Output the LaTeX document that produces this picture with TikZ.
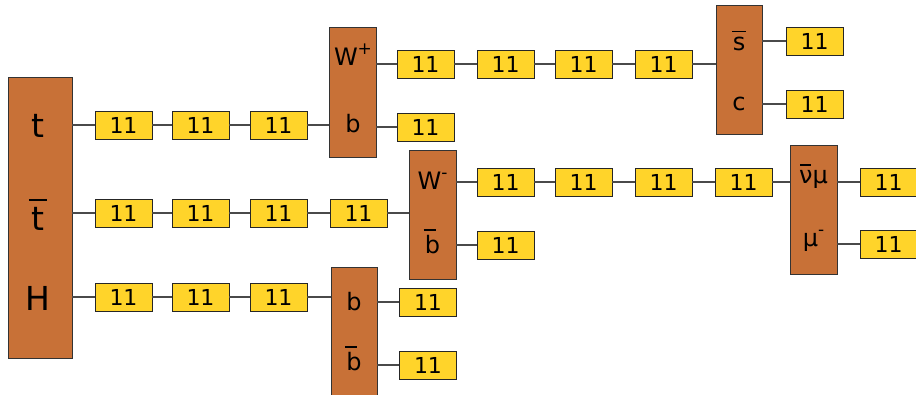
\documentclass[tikz,border=0pt]{standalone}
\usepackage{fontspec}
\setmainfont{DejaVu Sans}
\definecolor{brownbox}{HTML}{C87137}
\definecolor{yellowbox}{HTML}{FFD42A}
\definecolor{linegrey}{HTML}{4A4A4A}
% overbar: [shift]{width}{text}
\newcommand{\ovb}[3][0pt]{\leavevmode\setbox0\hbox{#3}\rlap{\kern#1\hbox to\wd0{\hss\rule[\dimexpr\ht0+0.17em\relax]{#2}{0.07em}\hss}}\box0}
\newcommand{\supmark}[1]{\raisebox{0.42em}{\fontsize{17}{17}\selectfont #1}}
\tikzset{
  numbox/.style={draw=black!85, line width=0.9pt, fill=yellowbox, minimum width=57pt, minimum height=28pt, inner sep=0pt, font=\fontsize{22}{22}\selectfont},
  decaybox/.style={draw=black!80, line width=0.9pt, fill=brownbox, inner sep=0pt},
  biglabel/.style={anchor=base, inner sep=0pt, font=\fontsize{33}{33}\selectfont},
  medlabel/.style={anchor=base, inner sep=0pt, font=\fontsize{24}{24}\selectfont},
  conn/.style={draw=linegrey, line width=1.2pt}
}
\begin{document}
\begin{tikzpicture}[x=1pt,y=-1pt]
\useasboundingbox (0,0) rectangle (916,394);
% main box
\node[decaybox, minimum width=64pt, minimum height=281pt] (main) at (40,217.5) {};
\node[biglabel] (lt) at (38,137) {t};
\node[biglabel] (ltb) at (38,230) {\ovb{0.55em}{t}};
\node[biglabel] (lH) at (38,310) {H};
% decay boxes
\node[decaybox, minimum width=47pt, minimum height=130pt] (Wp) at (352.5,92) {};
\node[decaybox, minimum width=46pt, minimum height=129pt] (sc) at (739,69.5) {};
\node[decaybox, minimum width=47pt, minimum height=129pt] (Wm) at (432.5,214.5) {};
\node[decaybox, minimum width=47pt, minimum height=129pt] (nu) at (813.5,209.5) {};
\node[decaybox, minimum width=46pt, minimum height=129pt] (bb) at (354,331.5) {};
% labels
\node[medlabel] (lWp) at (353,65) {W\supmark{+}};
\node[medlabel] (lb1) at (353,132) {b};
\node[medlabel] (lsb) at (739,50) {\ovb{0.55em}{s}};
\node[medlabel] (lc) at (739,110) {c};
\node[medlabel] (lWm) at (432.5,189) {W\supmark{-}};
\node[medlabel] (lbb1) at (432.5,253) {\ovb[-3pt]{0.5em}{b}};
\node[medlabel] (lnu) at (813.5,183) {\ovb{0.45em}{ν}μ};
\node[medlabel] (lmu) at (813.5,246) {μ\supmark{-}};
\node[medlabel] (lb2) at (354,310) {b};
\node[medlabel] (lbb2) at (354,370) {\ovb[-3pt]{0.5em}{b}};
% row 1
\node[numbox] (A1) at (123.5,125) {11};
\node[numbox] (A2) at (200.5,125) {11};
\node[numbox] (A3) at (278.5,125) {11};
\node[numbox] (B1) at (425.5,64) {11};
\node[numbox] (B2) at (505.5,64) {11};
\node[numbox] (B3) at (583.5,64) {11};
\node[numbox] (B4) at (663.5,64) {11};
\node[numbox] (Bb) at (425.5,127) {11};
\node[numbox] (S1) at (814.5,41) {11};
\node[numbox] (S2) at (814.5,104) {11};
% row 2
\node[numbox] (C1) at (123.5,213) {11};
\node[numbox] (C2) at (200.5,213) {11};
\node[numbox] (C3) at (278.5,213) {11};
\node[numbox] (C4) at (358.5,213) {11};
\node[numbox] (D1) at (505.5,182) {11};
\node[numbox] (D2) at (583.5,182) {11};
\node[numbox] (D3) at (663.5,182) {11};
\node[numbox] (D4) at (743.5,182) {11};
\node[numbox] (Db) at (505.5,245) {11};
\node[numbox] (N1) at (888.5,182) {11};
\node[numbox] (N2) at (888.5,244) {11};
% row 3
\node[numbox] (E1) at (123.5,297) {11};
\node[numbox] (E2) at (200.5,297) {11};
\node[numbox] (E3) at (278.5,297) {11};
\node[numbox] (F1) at (428,302) {11};
\node[numbox] (F2) at (428,365) {11};
% connectors
\draw[conn] (main.east |- A1.west) -- (A1.west);
\draw[conn] (A1) -- (A2);
\draw[conn] (A2) -- (A3);
\draw[conn] (A3.east) -- (Wp.west |- A3.east);
\draw[conn] (Wp.east |- B1.west) -- (B1.west);
\draw[conn] (B1) -- (B2);
\draw[conn] (B2) -- (B3);
\draw[conn] (B3) -- (B4);
\draw[conn] (B4.east) -- (sc.west |- B4.east);
\draw[conn] (Wp.east |- Bb.west) -- (Bb.west);
\draw[conn] (sc.east |- S1.west) -- (S1.west);
\draw[conn] (sc.east |- S2.west) -- (S2.west);
\draw[conn] (main.east |- C1.west) -- (C1.west);
\draw[conn] (C1) -- (C2);
\draw[conn] (C2) -- (C3);
\draw[conn] (C3) -- (C4);
\draw[conn] (C4.east) -- (Wm.west |- C4.east);
\draw[conn] (Wm.east |- D1.west) -- (D1.west);
\draw[conn] (D1) -- (D2);
\draw[conn] (D2) -- (D3);
\draw[conn] (D3) -- (D4);
\draw[conn] (D4.east) -- (nu.west |- D4.east);
\draw[conn] (Wm.east |- Db.west) -- (Db.west);
\draw[conn] (nu.east |- N1.west) -- (N1.west);
\draw[conn] (nu.east |- N2.west) -- (N2.west);
\draw[conn] (main.east |- E1.west) -- (E1.west);
\draw[conn] (E1) -- (E2);
\draw[conn] (E2) -- (E3);
\draw[conn] (E3.east) -- (bb.west |- E3.east);
\draw[conn] (bb.east |- F1.west) -- (F1.west);
\draw[conn] (bb.east |- F2.west) -- (F2.west);
\end{tikzpicture}
\end{document}
